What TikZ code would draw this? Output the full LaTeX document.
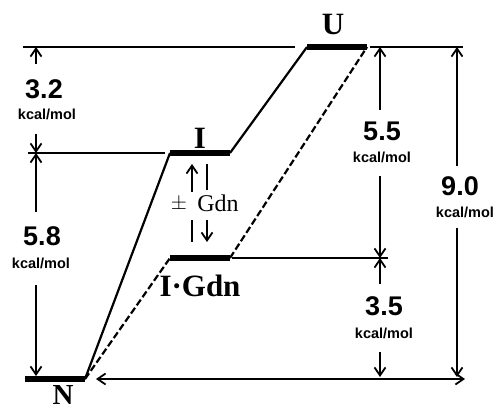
\documentclass[tikz,border=0pt]{standalone}
\usepackage{fontspec}
\setmainfont{Liberation Serif}
\setsansfont{Liberation Sans}
\usetikzlibrary{arrows.meta}

\begin{document}
\begin{tikzpicture}[x=1pt, y=-1pt,
  guide/.style={line width=1.4pt},
  level/.style={line width=6.5pt},
  path/.style={line width=2.2pt},
  dim/.style={line width=1.4pt, -{Straight Barb[length=8pt, width=11pt, line width=1.8pt]}},
  state/.style={font=\fontsize{31}{31}\selectfont\bfseries, inner sep=0pt},
  val/.style={font=\fontsize{27}{27}\selectfont\sffamily\bfseries, inner sep=0pt},
  unit/.style={font=\fontsize{14.5}{14.5}\selectfont\sffamily\bfseries, inner sep=0pt}]
  \useasboundingbox (0,0) rectangle (495,411);
  % energy levels
  \coordinate (N1) at (25,379);  \coordinate (N2) at (85,379);
  \coordinate (I1) at (170,153); \coordinate (I2) at (230,153);
  \coordinate (G1) at (170,258); \coordinate (G2) at (230,258);
  \coordinate (U1) at (307,47);  \coordinate (U2) at (367,47);
  \draw[guide] (23,47) -- (295,47);
  \draw[guide] (370,47) -- (463,47);
  \draw[guide] (28,153) -- (165,153);
  \draw[guide] (232,258) -- (388,258);
  \draw[level] (N1) -- (N2);
  \draw[level] (I1) -- (I2);
  \draw[level] (G1) -- (G2);
  \draw[level] (U1) -- (U2);
  \node[state] (lU) at (333,24) {U};
  \node[state] (lI) at (200,138) {I};
  \node[state] (lG) at (200,286) {I·Gdn};
  \node[state, font=\fontsize{29}{29}\selectfont\bfseries] (lN) at (63,395) {N};
  % pathways
  \draw[path] (N2) -- (I1);
  \draw[path] (I2) -- (U1);
  \draw[path, dash pattern=on 7pt off 3pt] (N2) -- (G1);
  \draw[path, dash pattern=on 7pt off 3pt] (G2) -- (U2);
  % +/- Gdn
  \node[font=\fontsize{22}{22}\selectfont] (pm) at (179,204) {$\pm$};
  \node[font=\fontsize{24}{24}\selectfont, inner sep=0pt] (gdn) at (218,203) {Gdn};
  \coordinate (b1) at (192,192); \coordinate (b2) at (192,164);
  \coordinate (b3) at (207,164); \coordinate (b4) at (207,190);
  \coordinate (b5) at (192,220); \coordinate (b6) at (192,242);
  \coordinate (b7) at (207,220); \coordinate (b8) at (207,242);
  \draw[dim] (b1) -- (b2);
  \draw[guide] (b3) -- (b4);
  \draw[guide] (b5) -- (b6);
  \draw[dim] (b7) -- (b8);
  % 3.2
  \node[val] (v32) at (44,89) {3.2};
  \node[unit] (u32) at (47,114) {kcal/mol};
  \coordinate (s32a) at (36,64); \coordinate (s32b) at (36,134);
  \draw[dim] (s32a) -- (s32a |- U1);
  \draw[dim] (s32b) -- (s32b |- I1);
  % 5.8
  \node[val] (v58) at (42,236) {5.8};
  \node[unit] (u58) at (41,263) {kcal/mol};
  \coordinate (s58a) at (36,212); \coordinate (s58b) at (36,285);
  \draw[dim] (s58a) -- (s58a |- I1);
  \draw[dim, shorten >=3pt] (s58b) -- (s58b |- N1);
  % 5.5
  \node[val] (v55) at (382,131) {5.5};
  \node[unit] (u55) at (382,157) {kcal/mol};
  \coordinate (s55a) at (380,110); \coordinate (s55b) at (380,176);
  \draw[dim] (s55a) -- (s55a |- U1);
  \draw[dim] (s55b) -- (s55b |- G1);
  % 3.5
  \node[val] (v35) at (384,306) {3.5};
  \node[unit] (u35) at (384,333) {kcal/mol};
  \coordinate (s35a) at (380,284); \coordinate (s35b) at (380,352);
  \draw[dim] (s35a) -- (s35a |- G1);
  \draw[dim, shorten >=2pt] (s35b) -- (s35b |- N1);
  % 9.0
  \node[val] (v90) at (460,186) {9.0};
  \node[unit] (u90) at (465,212) {kcal/mol};
  \coordinate (s90a) at (457,166); \coordinate (s90b) at (457,228);
  \draw[dim] (s90a) -- (s90a |- U1);
  \draw[dim, shorten >=2pt] (s90b) -- (s90b |- N1);
  % N to right
  \coordinate (Nr) at (465,379);
  \draw[dim, {Straight Barb[length=8pt, width=11pt, line width=1.8pt]}-{Straight Barb[length=8pt, width=11pt, line width=1.8pt]}, shorten <=11pt] (N2) -- (Nr);
\end{tikzpicture}
\end{document}
